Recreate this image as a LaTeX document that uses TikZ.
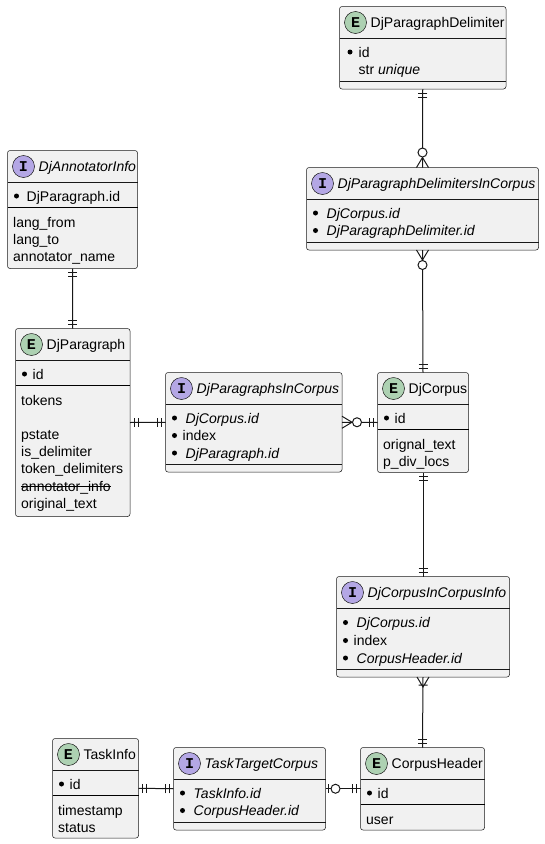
\documentclass[tikz,border=0pt]{standalone}
\usepackage{fontspec}
\setmainfont{Liberation Sans}
\newfontfamily\iconfont{Liberation Mono}
\usetikzlibrary{calc}
\definecolor{boxfill}{HTML}{F1F1F1}
\definecolor{bord}{HTML}{181818}
\definecolor{entcol}{HTML}{ADD1B2}
\definecolor{ifcol}{HTML}{B4A7E5}
\newcommand\fsz{\fontsize{14}{16}\selectfont}
\tikzset{
  erbox/.style={draw=bord, fill=boxfill, rounded corners=2.5pt, line width=0.5pt, inner sep=0pt, outer sep=0pt, anchor=north west},
  thinsep/.style={draw=bord, line width=0.5pt},
  thicksep/.style={draw=black, line width=1pt},
  spot/.style={circle, draw=bord, line width=0.5pt, minimum size=22pt, inner sep=0pt, font=\iconfont\bfseries\fontsize{15}{15}\selectfont},
  ftext/.style={anchor=base west, inner sep=0pt, font=\fsz},
  itext/.style={anchor=base west, inner sep=0pt, font=\fsz\itshape},
  conn/.style={draw=bord, line width=1pt},
  bul/.style={circle, fill=black, inner sep=0pt, minimum size=5pt},
  hollow/.style={draw=bord, fill=white, line width=1pt},
}
% box: name, l, t, r, b, spot colour, letter
\newcommand\mkbox[7]{%
  \node[erbox, minimum width={(#4-#2)*1pt}, minimum height={(#5-#3)*1pt}] (#1) at (#2,#3) {};
  \draw[thinsep] (#2,#3+32) -- (#4,#3+32);
  \node[spot, fill=#6] (#1-spot) at (#2+16,#3+16) {#7};
}
% bullet row: name, bullet x, row y, text x, style, text
\newcommand\brow[6]{%
  \node[bul] (#1-b) at (#2,#3) {};
  \node[#5] (#1) at (#4,#3+5) {#6};
}
\newcommand\tipOne[2]{\begin{scope}[shift={(#1)}, rotate=#2]
  \draw[conn] (4,-4.5)--(4,4.5) (8,-4.5)--(8,4.5);\end{scope}}
\newcommand\tipZeroMany[2]{\begin{scope}[shift={(#1)}, rotate=#2]
  \draw[conn] (0,-6)--(10,0)--(0,6);
  \draw[hollow] (15,0) circle[radius=4.5pt];\end{scope}}
\newcommand\tipOneMany[2]{\begin{scope}[shift={(#1)}, rotate=#2]
  \draw[conn] (0,-6)--(10,0)--(0,6) (8,-4.5)--(8,4.5);\end{scope}}
\newcommand\tipZeroOne[2]{\begin{scope}[shift={(#1)}, rotate=#2]
  \draw[conn] (3,-4.5)--(3,4.5);
  \draw[hollow] (10,0) circle[radius=4.5pt];\end{scope}}
\begin{document}
\begin{tikzpicture}[x=1pt,y=-1pt]
\useasboundingbox (0,0) rectangle (544,844);
% ---------------- boxes
% DjParagraphDelimiter
\mkbox{pd}{339.5}{6.5}{506}{89}{entcol}{E}
\node[ftext] (pd-title) at (370.5,27.5) {DjParagraphDelimiter};
\brow{pd-1}{350}{52}{358.5}{ftext}{id}
\node[ftext] (pd-2) at (358.5,74.5) {str \textit{unique}};
\draw[thinsep] (339.5,81) -- (506,81);
% DjParagraphDelimitersInCorpus
\mkbox{pdc}{306.5}{167.5}{538.5}{250}{ifcol}{I}
\node[itext] (pdc-title) at (337.5,188.5) {DjParagraphDelimitersInCorpus};
\brow{pdc-1}{315.5}{213}{326.5}{itext}{DjCorpus.id}
\brow{pdc-2}{315.5}{230.5}{326.5}{itext}{DjParagraphDelimiter.id}
\draw[thinsep] (306.5,242) -- (538.5,242);
% DjAnnotatorInfo
\mkbox{ai}{7.5}{150.5}{137.5}{268.5}{ifcol}{I}
\node[itext] (ai-title) at (38.5,171.5) {DjAnnotatorInfo};
\brow{ai-1}{16.5}{196}{26.5}{ftext}{DjParagraph.id}
\draw[thicksep] (7.5,207.5) -- (137.5,207.5);
\node[ftext] (ai-2) at (13,227) {lang\_from};
\node[ftext] (ai-3) at (13,244.3) {lang\_to};
\node[ftext] (ai-4) at (13,261.6) {annotator\_name};
% DjParagraph
\mkbox{par}{15.5}{328.5}{130}{516.5}{entcol}{E}
\node[ftext] (par-title) at (46.5,349.5) {DjParagraph};
\brow{par-1}{24.5}{374}{32.5}{ftext}{id}
\draw[thicksep] (15.5,385.5) -- (130,385.5);
\node[ftext] (par-2) at (21,405) {tokens};
\node[ftext] (par-3) at (21,439.4) {pstate};
\node[ftext] (par-4) at (21,456.6) {is\_delimiter};
\node[ftext] (par-5) at (21,473.8) {token\_delimiters};
\node[ftext] (par-6) at (21,491) {annotator\_info};
\draw[draw=black, line width=1pt] ($(par-6.base west)+(0,-4.5)$) -- ($(par-6.base east)+(0,-4.5)$);
\node[ftext] (par-7) at (21,508.2) {original\_text};
% DjParagraphsInCorpus
\mkbox{pic}{165.5}{372.5}{342}{472}{ifcol}{I}
\node[itext] (pic-title) at (196.5,393.5) {DjParagraphsInCorpus};
\brow{pic-1}{174.5}{418}{185.5}{itext}{DjCorpus.id}
\brow{pic-2}{174.5}{435.5}{182.5}{ftext}{index}
\brow{pic-3}{174.5}{453}{185.5}{itext}{DjParagraph.id}
\draw[thinsep] (165.5,464) -- (342,464);
% DjCorpus
\mkbox{cor}{377.5}{372.5}{468.5}{472.5}{entcol}{E}
\node[ftext] (cor-title) at (408.5,393.5) {DjCorpus};
\brow{cor-1}{386.5}{418}{394.5}{ftext}{id}
\draw[thicksep] (377.5,429.5) -- (468.5,429.5);
\node[ftext] (cor-2) at (383,449) {orignal\_text};
\node[ftext] (cor-3) at (383,466.3) {p\_div\_locs};
% DjCorpusInCorpusInfo
\mkbox{cci}{336.5}{576.5}{509.5}{677}{ifcol}{I}
\node[itext] (cci-title) at (367.5,597.5) {DjCorpusInCorpusInfo};
\brow{cci-1}{345.5}{622.5}{356.5}{itext}{DjCorpus.id}
\brow{cci-2}{345.5}{640.5}{353.5}{ftext}{index}
\brow{cci-3}{345.5}{658}{356.5}{itext}{CorpusHeader.id}
\draw[thinsep] (336.5,669) -- (509.5,669);
% TaskInfo
\mkbox{ti}{52.5}{738.5}{138.5}{838}{entcol}{E}
\node[ftext] (ti-title) at (83.5,759.5) {TaskInfo};
\brow{ti-1}{61.5}{784}{69.5}{ftext}{id}
\draw[thicksep] (52.5,795.5) -- (138.5,795.5);
\node[ftext] (ti-2) at (58,815) {timestamp};
\node[ftext] (ti-3) at (58,832) {status};
% TaskTargetCorpus
\mkbox{ttc}{173.5}{747.5}{325.5}{830}{ifcol}{I}
\node[itext] (ttc-title) at (204.5,768.5) {TaskTargetCorpus};
\brow{ttc-1}{182.5}{793}{193.5}{itext}{TaskInfo.id}
\brow{ttc-2}{182.5}{810.5}{193.5}{itext}{CorpusHeader.id}
\draw[thinsep] (173.5,822) -- (325.5,822);
% CorpusHeader
\mkbox{ch}{360.5}{747.5}{484.5}{830}{entcol}{E}
\node[ftext] (ch-title) at (391.5,768.5) {CorpusHeader};
\brow{ch-1}{369.5}{793}{377.5}{ftext}{id}
\draw[thicksep] (360.5,804.5) -- (484.5,804.5);
\node[ftext] (ch-2) at (366,824) {user};
% ---------------- connectors
\draw[conn] (pd.south) -- (pdc.north);
\draw[conn] (pdc.south) -- (cor.north);
\draw[conn] (ai.south) -- (par.north);
\draw[conn] (par.east) -- (pic.west);
\draw[conn] (pic.east) -- (cor.west);
\draw[conn] (cor.south) -- (cci.north);
\draw[conn] (cci.south) -- (ch.north);
\draw[conn] (ti.east) -- (ttc.west);
\draw[conn] (ttc.east) -- (ch.west);
% ---------------- ends
\tipOne{pd.south}{-90}
\tipZeroMany{pdc.north}{90}
\tipZeroMany{pdc.south}{-90}
\tipOne{cor.north}{90}
\tipOne{ai.south}{-90}
\tipOne{par.north}{90}
\tipOne{par.east}{0}
\tipOne{pic.west}{180}
\tipZeroMany{pic.east}{0}
\tipOne{cor.west}{180}
\tipOne{cor.south}{-90}
\tipOne{cci.north}{90}
\tipOneMany{cci.south}{-90}
\tipOne{ch.north}{90}
\tipOne{ti.east}{0}
\tipOne{ttc.west}{180}
\tipZeroOne{ttc.east}{0}
\tipOne{ch.west}{180}
\end{tikzpicture}
\end{document}
